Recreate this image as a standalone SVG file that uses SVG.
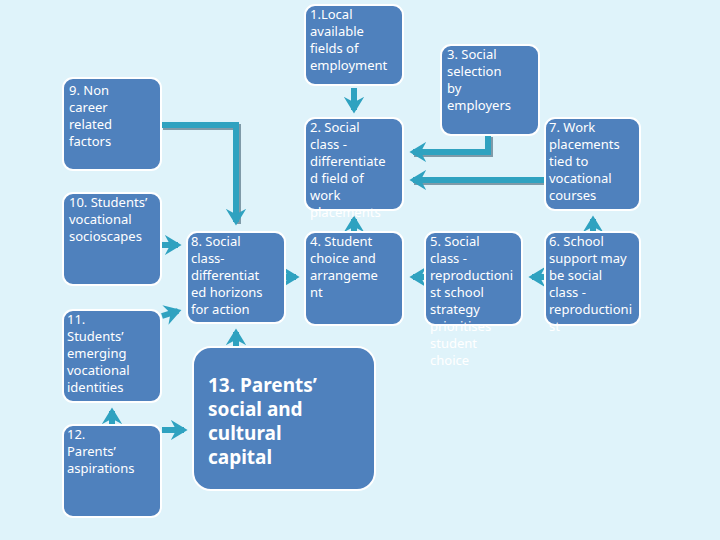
<svg xmlns="http://www.w3.org/2000/svg" width="720" height="540" viewBox="0 0 720 540">
<defs>
<style>
.b{fill:#4f81bd;stroke:#fff;stroke-width:2}
.t{font-family:"Noto Sans","DejaVu Sans",sans-serif;font-size:13px;fill:#fff}
.big{font-family:"Noto Sans","DejaVu Sans",sans-serif;font-size:19px;font-weight:bold;fill:#fff}
.c{fill:none;stroke:#2fa2c0;stroke-width:6}
.s{fill:none;stroke:#7f9aa8;stroke-width:6}
</style>
<marker id="a" markerWidth="4" markerHeight="4" refX="2.2" refY="2" orient="auto" markerUnits="strokeWidth"><path d="M0,0.3 L2.8,2 L0,3.7 L0.9,2 Z" fill="#2fa2c0"/></marker>
</defs>
<rect width="720" height="540" fill="#dff3fa"/>
<g id="connectors">
<g transform="translate(2,2)">
<path class="s" d="M161,125 H236 V222"/>
<path class="s" d="M488,135 V152 H412"/>
<path class="s" d="M545,180 H412"/>
</g>
<path class="c" d="M354,88 V110" marker-end="url(#a)"/>
<path class="c" d="M161,125 H236 V222" marker-end="url(#a)"/>
<path class="c" d="M488,135 V152 H413" marker-end="url(#a)"/>
<path class="c" d="M545,180 H413" marker-end="url(#a)"/>
<path class="c" d="M354,234 V219" marker-end="url(#a)"/>
<path class="c" d="M286,277 H296" marker-end="url(#a)"/>
<path class="c" d="M425,277 H413" marker-end="url(#a)"/>
<path class="c" d="M545,277 H532" marker-end="url(#a)"/>
<path class="c" d="M593,234 V219" marker-end="url(#a)"/>
<path class="c" d="M236,348 V332" marker-end="url(#a)"/>
<path class="c" d="M162,245 H178" marker-end="url(#a)"/>
<path class="c" d="M162,316 L178,311" marker-end="url(#a)"/>
<path class="c" d="M112,426 V411" marker-end="url(#a)"/>
<path class="c" d="M162,430 H184" marker-end="url(#a)"/>
</g>
<g id="n1"><rect class="b" x="305" y="5" width="98" height="80" rx="10"/><text class="t" x="310" y="19">1.Local<tspan x="310" dy="17">available</tspan><tspan x="310" dy="17">fields of</tspan><tspan x="310" dy="17">employment</tspan></text></g>
<g id="n3"><rect class="b" x="441" y="45" width="98" height="90" rx="10"/><text class="t" x="447" y="59">3. Social<tspan x="447" dy="17">selection</tspan><tspan x="447" dy="17">by</tspan><tspan x="447" dy="17">employers</tspan></text></g>
<g id="n9"><rect class="b" x="63" y="78" width="98" height="92" rx="10"/><text class="t" x="69" y="95">9. Non<tspan x="69" dy="17">career</tspan><tspan x="69" dy="17">related</tspan><tspan x="69" dy="17">factors</tspan></text></g>
<g id="n2"><rect class="b" x="305" y="118" width="98" height="92" rx="10"/><text class="t" x="310" y="132">2. Social<tspan x="310" dy="17">class -</tspan><tspan x="310" dy="17">differentiate</tspan><tspan x="310" dy="17">d field of</tspan><tspan x="310" dy="17">work</tspan><tspan x="310" dy="17">placements</tspan></text></g>
<g id="n7"><rect class="b" x="545" y="118" width="95" height="92" rx="10"/><text class="t" x="549" y="132">7. Work<tspan x="549" dy="17">placements</tspan><tspan x="549" dy="17">tied to</tspan><tspan x="549" dy="17">vocational</tspan><tspan x="549" dy="17">courses</tspan></text></g>
<g id="n10"><rect class="b" x="63" y="193" width="98" height="92" rx="10"/><text class="t" x="69" y="207">10. Students’<tspan x="69" dy="17">vocational</tspan><tspan x="69" dy="17">socioscapes</tspan></text></g>
<g id="n8"><rect class="b" x="187" y="232" width="98" height="91" rx="10"/><text class="t" x="191" y="246">8. Social<tspan x="191" dy="17">class-</tspan><tspan x="191" dy="17">differentiat</tspan><tspan x="191" dy="17">ed horizons</tspan><tspan x="191" dy="17">for action</tspan></text></g>
<g id="n4"><rect class="b" x="305" y="232" width="98" height="93" rx="10"/><text class="t" x="310" y="246">4. Student<tspan x="310" dy="17">choice and</tspan><tspan x="310" dy="17">arrangeme</tspan><tspan x="310" dy="17">nt</tspan></text></g>
<g id="n5"><rect class="b" x="425" y="232" width="97" height="93" rx="10"/><text class="t" x="430" y="246">5. Social<tspan x="430" dy="17">class -</tspan><tspan x="430" dy="17">reproductioni</tspan><tspan x="430" dy="17">st school</tspan><tspan x="430" dy="17">strategy</tspan><tspan x="430" dy="17">prioritises</tspan><tspan x="430" dy="17">student</tspan><tspan x="430" dy="17">choice</tspan></text></g>
<g id="n6"><rect class="b" x="545" y="232" width="95" height="93" rx="10"/><text class="t" x="549" y="246">6. School<tspan x="549" dy="17">support may</tspan><tspan x="549" dy="17">be social</tspan><tspan x="549" dy="17">class -</tspan><tspan x="549" dy="17">reproductioni</tspan><tspan x="549" dy="17">st</tspan></text></g>
<g id="n11"><rect class="b" x="63" y="310" width="98" height="92" rx="10"/><text class="t" x="67" y="324">11.<tspan x="67" dy="17">Students’</tspan><tspan x="67" dy="17">emerging</tspan><tspan x="67" dy="17">vocational</tspan><tspan x="67" dy="17">identities</tspan></text></g>
<g id="n12"><rect class="b" x="63" y="425" width="98" height="92" rx="10"/><text class="t" x="67" y="439">12.<tspan x="67" dy="17">Parents’</tspan><tspan x="67" dy="17">aspirations</tspan></text></g>
<g id="n13"><rect class="b" x="193" y="347" width="182" height="143" rx="18"/><text class="big" x="208" y="392">13. Parents’<tspan x="208" dy="24">social and</tspan><tspan x="208" dy="24">cultural</tspan><tspan x="208" dy="24">capital</tspan></text></g>
</svg>
